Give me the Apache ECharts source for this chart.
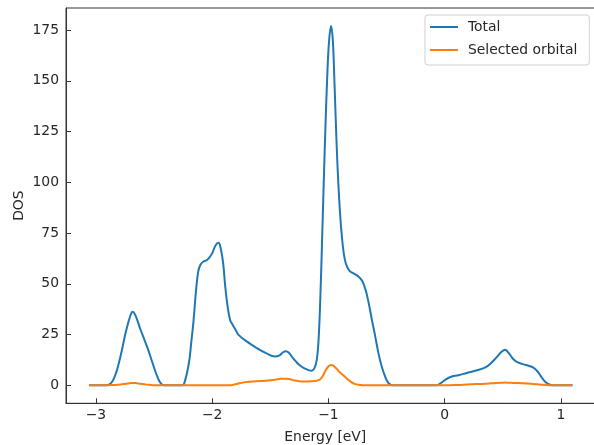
<!DOCTYPE html>
<html>
<head>
<meta charset="utf-8">
<script src="https://cdn.jsdelivr.net/npm/echarts@6/dist/echarts.min.js"></script>
<style>
html,body{margin:0;padding:0;background:#fff;overflow:hidden;}
#chart{width:594px;height:445px;}
</style>
</head>
<body>
<div id="chart"></div>
<script>
// ---- Data ----
const seriesNames = ['Total', 'Selected orbital'];
const xTicks = [-3, -2, -1, 0, 1];
const yTicks = [0, 25, 50, 75, 100, 125, 150, 175];

// [energy (eV), DOS]
const totalPoints = [
  [-3.06, 0], [-2.95, 0], [-2.89, 0.3], [-2.84, 4], [-2.79, 14], [-2.74, 27],
  [-2.70, 35], [-2.685, 36.3], [-2.66, 34.5], [-2.62, 28], [-2.58, 22],
  [-2.55, 17.5], [-2.51, 10.5], [-2.47, 4], [-2.44, 0.8], [-2.41, 0],
  [-2.26, 0], [-2.24, 1], [-2.20, 11], [-2.18, 21], [-2.16, 32], [-2.14, 46],
  [-2.12, 56], [-2.10, 59.5], [-2.075, 61], [-2.05, 61.5], [-2.03, 62.5],
  [-2.00, 65], [-1.97, 69], [-1.945, 70.2], [-1.925, 67], [-1.905, 60],
  [-1.888, 49], [-1.865, 38], [-1.845, 32], [-1.83, 30.5], [-1.80, 27.5],
  [-1.775, 25], [-1.70, 21.5], [-1.62, 18.5], [-1.54, 16], [-1.46, 14.2],
  [-1.42, 14.8], [-1.39, 16.3], [-1.365, 16.8], [-1.34, 16], [-1.31, 13.8],
  [-1.28, 11.8], [-1.25, 10], [-1.21, 8.5], [-1.17, 7.5], [-1.145, 7.2],
  [-1.12, 8.5], [-1.10, 12.5], [-1.085, 22], [-1.07, 42], [-1.055, 70],
  [-1.04, 100], [-1.025, 128], [-1.01, 152], [-0.995, 169], [-0.977, 177],
  [-0.962, 170], [-0.947, 148], [-0.93, 120], [-0.915, 100], [-0.90, 85],
  [-0.885, 74], [-0.87, 66], [-0.85, 60], [-0.82, 56.5], [-0.78, 55],
  [-0.74, 53.5], [-0.71, 51.5], [-0.68, 47], [-0.655, 41], [-0.625, 32],
  [-0.60, 25], [-0.57, 16], [-0.54, 9], [-0.51, 4], [-0.485, 1.2],
  [-0.46, 0.2], [-0.43, 0], [-0.07, 0], [-0.04, 0.8], [0.00, 2.5],
  [0.05, 4.1], [0.12, 5.0], [0.19, 6.1], [0.27, 7.3], [0.35, 8.8],
  [0.40, 11], [0.45, 14], [0.49, 16.5], [0.52, 17.5], [0.55, 16],
  [0.59, 13], [0.63, 11.3], [0.70, 10], [0.76, 8.8], [0.80, 6.8],
  [0.84, 3.5], [0.87, 1.5], [0.90, 0.4], [0.94, 0], [1.10, 0]
];

const orbitalPoints = [
  [-3.06, 0], [-2.95, 0], [-2.89, 0.1], [-2.84, 0.2], [-2.79, 0.4],
  [-2.74, 0.8], [-2.70, 1.1], [-2.685, 1.2], [-2.66, 1.1], [-2.62, 0.8],
  [-2.58, 0.5], [-2.55, 0.3], [-2.51, 0.1], [-2.47, 0], [-1.86, 0],
  [-1.83, 0.1], [-1.80, 0.5], [-1.775, 0.9], [-1.70, 1.7], [-1.62, 2.0],
  [-1.54, 2.3], [-1.46, 2.8], [-1.42, 3.1], [-1.39, 3.3], [-1.365, 3.3],
  [-1.34, 3.1], [-1.31, 2.7], [-1.28, 2.3], [-1.25, 2.0], [-1.21, 1.9],
  [-1.17, 1.9], [-1.145, 2.0], [-1.12, 2.1], [-1.10, 2.3], [-1.085, 2.6],
  [-1.07, 3.0], [-1.055, 4.0], [-1.04, 5.5], [-1.025, 7.2], [-1.01, 8.6],
  [-0.995, 9.6], [-0.977, 10.0], [-0.962, 9.8], [-0.947, 9.2], [-0.93, 8.2],
  [-0.915, 7.2], [-0.90, 6.3], [-0.885, 5.6], [-0.87, 4.9], [-0.85, 3.8],
  [-0.82, 2.3], [-0.78, 0.8], [-0.74, 0.3], [-0.71, 0.1], [-0.68, 0],
  [0.00, 0], [0.05, 0.1], [0.12, 0.2], [0.19, 0.4], [0.27, 0.6],
  [0.35, 0.8], [0.40, 1.0], [0.45, 1.2], [0.49, 1.3], [0.52, 1.35],
  [0.55, 1.3], [0.59, 1.2], [0.63, 1.1], [0.70, 0.9], [0.76, 0.7],
  [0.80, 0.5], [0.84, 0.3], [0.87, 0.2], [0.90, 0.1], [0.94, 0], [1.10, 0]
];

// ---- Chart ----
const FONT = 'DejaVu Sans';
const TXT = '#262626';
const AX = '#333333';
const fmt = v => String(v).replace('-', '\u2212');

const chart = echarts.init(document.getElementById('chart'), null, {renderer: 'canvas'});
chart.setOption({
  animation: false,
  backgroundColor: '#ffffff',
  grid: {
    left: 66, top: 8, width: 530.6, bottom: 41.7,
    outerBoundsMode: 'none', containLabel: false,
    show: true, borderColor: AX, borderWidth: 1, backgroundColor: 'transparent'
  },
  legend: {
    data: seriesNames,
    orient: 'vertical',
    right: 4.7, top: 15,
    icon: 'rect',
    itemWidth: 28, itemHeight: 2,
    itemGap: 7,
    padding: [4, 12, 7, 5],
    borderColor: '#d0d0d0', borderWidth: 1, borderRadius: 3,
    backgroundColor: 'rgba(255,255,255,0.8)',
    textStyle: {fontFamily: FONT, fontSize: 13.9, color: TXT, lineHeight: 16, padding: [0, 0, 0, 5]}
  },
  xAxis: {
    type: 'value',
    min: -3.2575, max: 1.3075,
    name: 'Energy [eV]',
    nameLocation: 'middle',
    nameGap: 27,
    nameMoveOverlap: false,
    nameTextStyle: {fontFamily: FONT, fontSize: 13.9, color: TXT, padding: [0, 12, 0, 0]},
    axisLine: {show: true, onZero: false, lineStyle: {color: AX, width: 1}},
    axisTick: {show: true, inside: true, length: 5, lineStyle: {color: AX}, customValues: xTicks},
    axisLabel: {fontFamily: FONT, fontSize: 13.9, color: TXT, margin: 5, customValues: xTicks, formatter: fmt},
    splitLine: {show: false}
  },
  yAxis: {
    type: 'value',
    min: -8.85, max: 185.85,
    name: 'DOS',
    nameLocation: 'middle',
    nameGap: 40,
    nameMoveOverlap: false,
    nameTextStyle: {fontFamily: FONT, fontSize: 13.9, color: TXT},
    axisLine: {show: true, onZero: false, lineStyle: {color: AX, width: 1}},
    axisTick: {show: true, inside: true, length: 5, lineStyle: {color: AX}, customValues: yTicks},
    axisLabel: {fontFamily: FONT, fontSize: 13.9, color: TXT, margin: 7, customValues: yTicks, formatter: fmt},
    splitLine: {show: false}
  },
  series: [
    {
      name: seriesNames[0], type: 'line', data: totalPoints,
      showSymbol: false, smooth: 0.4,
      lineStyle: {color: '#1f77b4', width: 2}, itemStyle: {color: '#1f77b4'}, z: 2
    },
    {
      name: seriesNames[1], type: 'line', data: orbitalPoints,
      showSymbol: false, smooth: 0.4,
      lineStyle: {color: '#ff7f0e', width: 2}, itemStyle: {color: '#ff7f0e'}, z: 3
    }
  ]
});
</script>
</body>
</html>
